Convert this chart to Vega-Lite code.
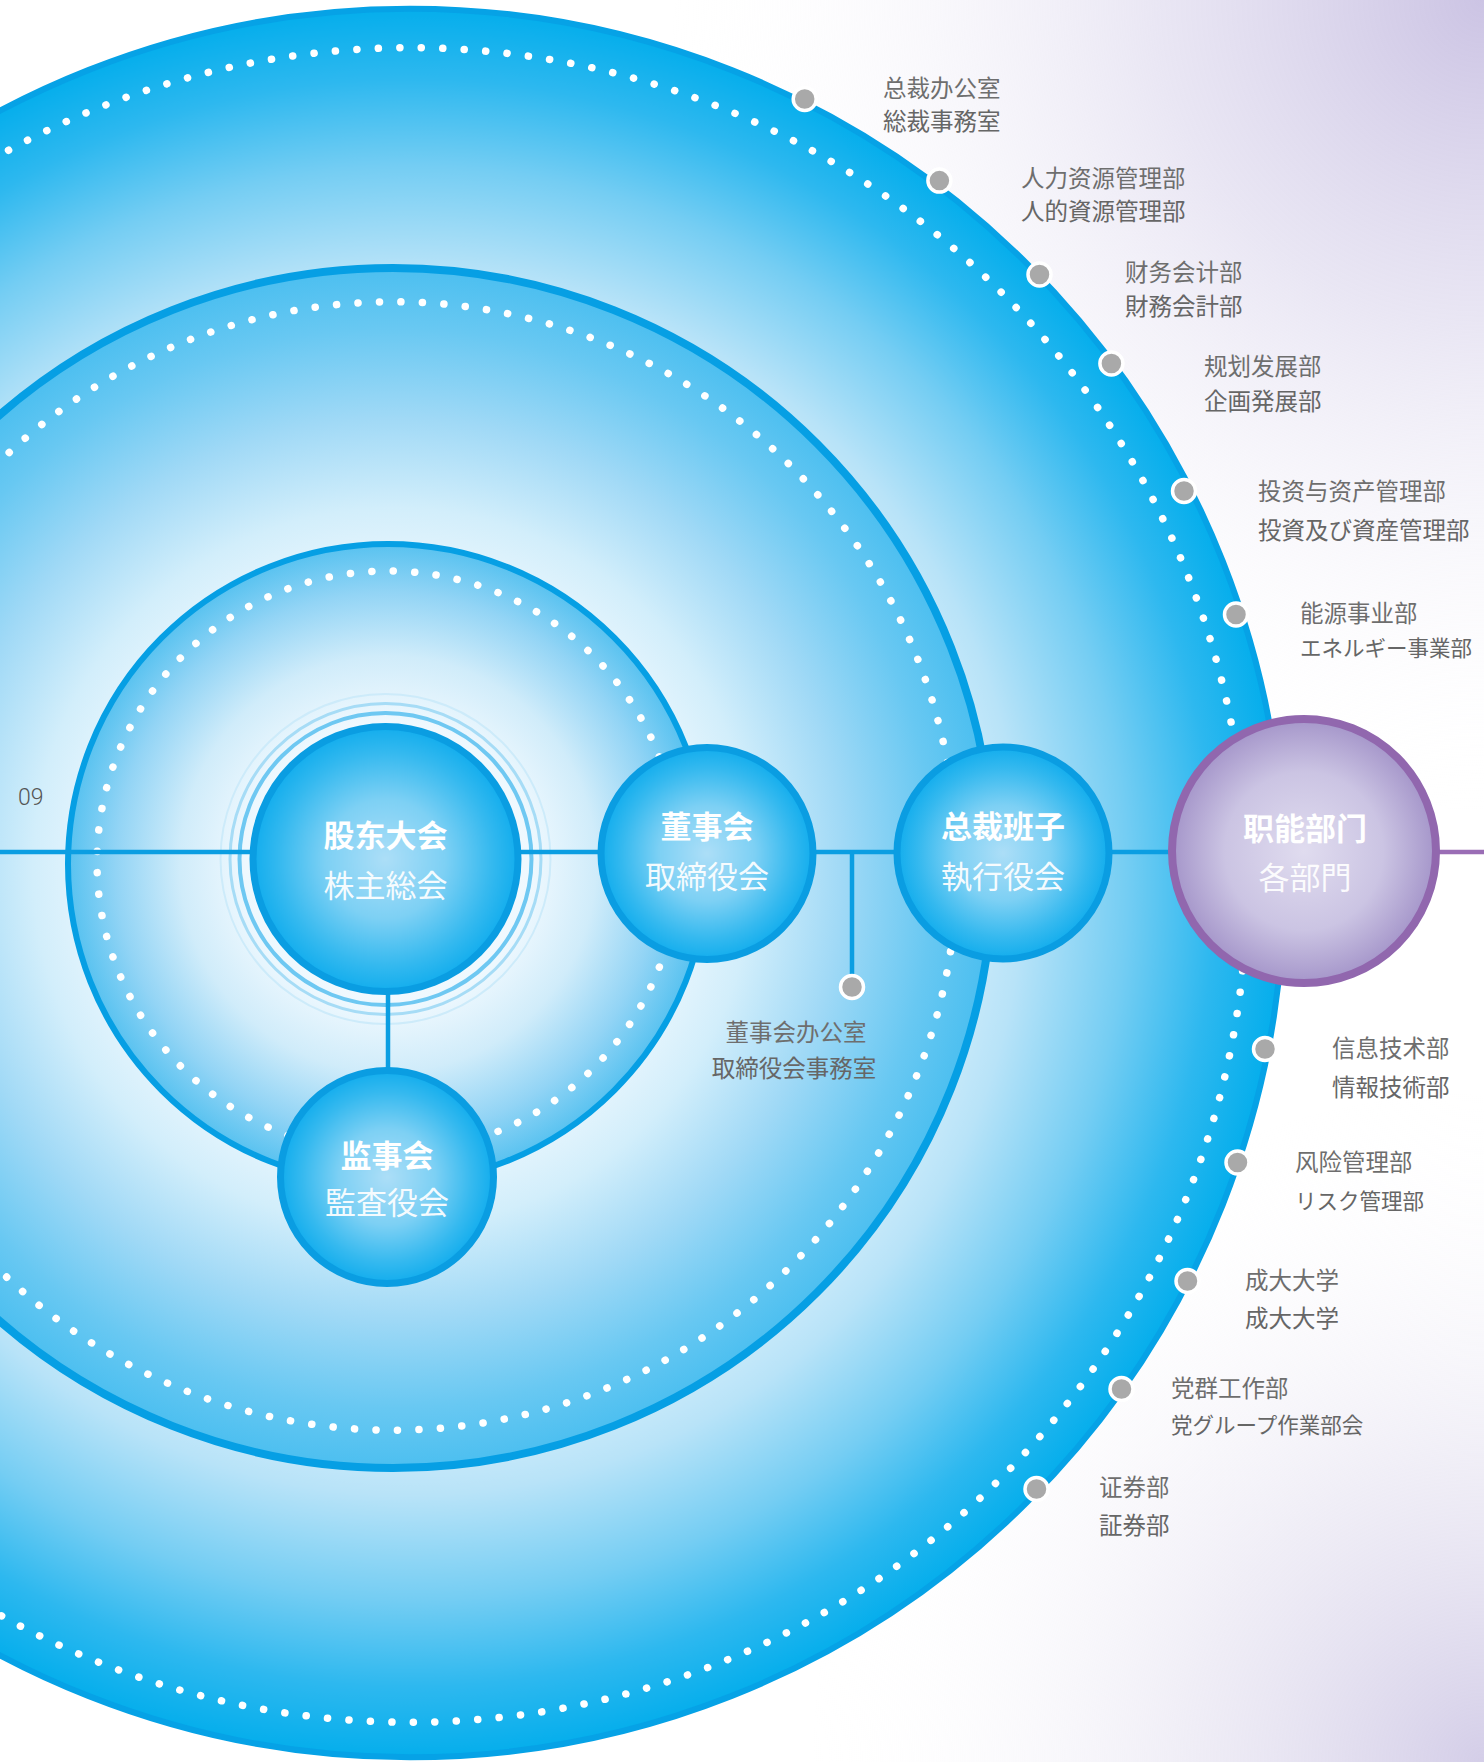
{
  "$schema": "https://vega.github.io/schema/vega-lite/v6.json",
  "width": 1484,
  "height": 1762,
  "padding": 0,
  "autosize": {"type": "none"},
  "background": "#ffffff",
  "config": {"view": {"stroke": null}},
  "encoding": {
    "x": {"field": "x", "type": "quantitative", "scale": {"domain": [0, 1484], "nice": false, "zero": false}, "axis": null},
    "y": {"field": "y", "type": "quantitative", "scale": {"domain": [0, 1762], "reverse": true, "nice": false, "zero": false}, "axis": null}
  },
  "layer": [
    {
      "data": {"values": [{"x": 0, "x2": 1484, "y": 0, "y2": 1762}]},
      "mark": {"type": "rect", "fill": "#ffffff"},
      "encoding": {"x2": {"field": "x2"}, "y2": {"field": "y2"}}
    },
    {
      "data": {"values": [{"x": 0, "x2": 1484, "y": 0, "y2": 1762}]},
      "mark": {"type": "rect", "fill": {"gradient": "radial", "x1": 0.92, "y1": 0, "r1": 0, "x2": 0.92, "y2": 0, "r2": 0.46,
        "stops": [{"offset": 0, "color": "rgba(204,196,228,1)"}, {"offset": 0.4, "color": "rgba(226,222,240,0.75)"}, {"offset": 1, "color": "rgba(255,255,255,0)"}]}},
      "encoding": {"x2": {"field": "x2"}, "y2": {"field": "y2"}}
    },
    {
      "data": {"values": [{"x": 0, "x2": 1484, "y": 0, "y2": 1762}]},
      "mark": {"type": "rect", "fill": {"gradient": "radial", "x1": 0.92, "y1": 1, "r1": 0, "x2": 0.92, "y2": 1, "r2": 0.38,
        "stops": [{"offset": 0, "color": "rgba(212,206,232,1)"}, {"offset": 0.45, "color": "rgba(232,229,242,0.65)"}, {"offset": 1, "color": "rgba(255,255,255,0)"}]}},
      "encoding": {"x2": {"field": "x2"}, "y2": {"field": "y2"}}
    },
    {
      "data": {"values": [{"x": 410, "y": 883, "r": 874}]},
      "mark": {"type": "circle", "opacity": 1, "clip": true, "stroke": "#06a2e6", "strokeWidth": 6,
        "fill": {"gradient": "radial", "x1": 0.5, "y1": 0.5, "r1": 0, "x2": 0.5, "y2": 0.5, "r2": 0.5,
          "stops": [{"offset": 0, "color": "#ffffff"}, {"offset": 0.6, "color": "#d8f0fc"}, {"offset": 0.7, "color": "#b8e3f8"}, {"offset": 0.82, "color": "#74cdf3"}, {"offset": 0.92, "color": "#2db8ef"}, {"offset": 1, "color": "#05aeec"}]}},
      "encoding": {"size": {"field": "r", "type": "quantitative", "scale": {"type": "pow", "exponent": 2, "domain": [0, 1000], "range": [0, 4000000]}, "legend": null}}
    },
    {
      "data": {"values": [{"x": 410, "y": 885, "r": 837}]},
      "mark": {"type": "circle", "filled": false, "opacity": 1, "clip": true, "stroke": "#ffffff", "strokeWidth": 7.5, "strokeDash": [0.1, 21.4], "strokeCap": "round"},
      "encoding": {"size": {"field": "r", "type": "quantitative", "scale": {"type": "pow", "exponent": 2, "domain": [0, 1000], "range": [0, 4000000]}, "legend": null}}
    },
    {
      "data": {"values": [{"x": 393, "y": 868, "r": 600}]},
      "mark": {"type": "circle", "opacity": 1, "clip": true, "stroke": "#069fe4", "strokeWidth": 8,
        "fill": {"gradient": "radial", "x1": 0.5, "y1": 0.5, "r1": 0, "x2": 0.5, "y2": 0.5, "r2": 0.5,
          "stops": [{"offset": 0, "color": "#ffffff"}, {"offset": 0.5, "color": "#e6f5fd"}, {"offset": 0.6, "color": "#d2eefb"}, {"offset": 0.75, "color": "#a0d9f6"}, {"offset": 0.9, "color": "#68c8f2"}, {"offset": 1, "color": "#4cbff0"}]}},
      "encoding": {"size": {"field": "r", "type": "quantitative", "scale": {"type": "pow", "exponent": 2, "domain": [0, 1000], "range": [0, 4000000]}, "legend": null}}
    },
    {
      "data": {"values": [{"x": 393, "y": 866, "r": 564}]},
      "mark": {"type": "circle", "filled": false, "opacity": 1, "clip": true, "stroke": "#ffffff", "strokeWidth": 7.5, "strokeDash": [0.1, 21.4], "strokeCap": "round"},
      "encoding": {"size": {"field": "r", "type": "quantitative", "scale": {"type": "pow", "exponent": 2, "domain": [0, 1000], "range": [0, 4000000]}, "legend": null}}
    },
    {
      "data": {"values": [{"x": 388, "y": 864, "r": 320}]},
      "mark": {"type": "circle", "opacity": 1, "clip": true, "stroke": "#069fe4", "strokeWidth": 6,
        "fill": {"gradient": "radial", "x1": 0.5, "y1": 0.5, "r1": 0, "x2": 0.5, "y2": 0.5, "r2": 0.5,
          "stops": [{"offset": 0, "color": "#ffffff"}, {"offset": 0.45, "color": "#eef8fe"}, {"offset": 0.65, "color": "#d0ecfa"}, {"offset": 0.85, "color": "#92d4f5"}, {"offset": 1, "color": "#58c2f0"}]}},
      "encoding": {"size": {"field": "r", "type": "quantitative", "scale": {"type": "pow", "exponent": 2, "domain": [0, 1000], "range": [0, 4000000]}, "legend": null}}
    },
    {
      "data": {"values": [{"x": 388, "y": 862, "r": 291}]},
      "mark": {"type": "circle", "filled": false, "opacity": 1, "clip": true, "stroke": "#ffffff", "strokeWidth": 7.5, "strokeDash": [0.1, 21.4], "strokeCap": "round"},
      "encoding": {"size": {"field": "r", "type": "quantitative", "scale": {"type": "pow", "exponent": 2, "domain": [0, 1000], "range": [0, 4000000]}, "legend": null}}
    },
    {
      "data": {"values": [{"x": 385.5, "y": 859, "r": 146, "ring": 1}, {"x": 385.5, "y": 859, "r": 155.5, "ring": 2}, {"x": 385.5, "y": 859, "r": 165, "ring": 3}]},
      "mark": {"type": "circle", "filled": false, "opacity": 1, "clip": true},
      "encoding": {
        "size": {"field": "r", "type": "quantitative", "scale": {"type": "pow", "exponent": 2, "domain": [0, 1000], "range": [0, 4000000]}, "legend": null},
        "stroke": {"field": "ring", "type": "nominal", "scale": {"domain": [1, 2, 3], "range": ["#6ec8f2", "#a6dcf6", "#cdebfa"]}, "legend": null},
        "strokeWidth": {"field": "ring", "type": "quantitative", "scale": {"domain": [1, 3], "range": [4, 2]}, "legend": null}
      }
    },
    {
      "data": {"values": [
        {"x": 0, "y": 852, "x2": 1220, "y2": 852, "kind": "blue"},
        {"x": 1300, "y": 852, "x2": 1484, "y2": 852, "kind": "purple"},
        {"x": 388, "y": 990, "x2": 388, "y2": 1072, "kind": "blue"},
        {"x": 852, "y": 852, "x2": 852, "y2": 985, "kind": "blue"}
      ]},
      "mark": {"type": "rule", "strokeWidth": 4.5, "clip": true},
      "encoding": {
        "x2": {"field": "x2"},
        "y2": {"field": "y2"},
        "color": {"field": "kind", "type": "nominal", "scale": {"domain": ["blue", "purple"], "range": ["#0b9ee2", "#9a6db5"]}, "legend": null}
      }
    },
    {
      "data": {"values": [
        {"x": 385.5, "y": 859, "r": 132.5},
        {"x": 707, "y": 853.5, "r": 106},
        {"x": 1003, "y": 853, "r": 106},
        {"x": 387, "y": 1177, "r": 106.5}
      ]},
      "mark": {"type": "circle", "opacity": 1, "stroke": "#0a9de2", "strokeWidth": 7,
        "fill": {"gradient": "radial", "x1": 0.5, "y1": 0.5, "r1": 0, "x2": 0.5, "y2": 0.5, "r2": 0.5,
          "stops": [{"offset": 0, "color": "#acdef7"}, {"offset": 0.45, "color": "#7dd0f4"}, {"offset": 0.8, "color": "#35b9ef"}, {"offset": 1, "color": "#12aded"}]}},
      "encoding": {"size": {"field": "r", "type": "quantitative", "scale": {"type": "pow", "exponent": 2, "domain": [0, 1000], "range": [0, 4000000]}, "legend": null}}
    },
    {
      "data": {"values": [{"x": 1304, "y": 851, "r": 132}]},
      "mark": {"type": "circle", "opacity": 1, "stroke": "#9167ae", "strokeWidth": 8,
        "fill": {"gradient": "radial", "x1": 0.5, "y1": 0.5, "r1": 0, "x2": 0.5, "y2": 0.5, "r2": 0.5,
          "stops": [{"offset": 0, "color": "#e0dcef"}, {"offset": 0.6, "color": "#cbc4e3"}, {"offset": 1, "color": "#a596ca"}]}},
      "encoding": {"size": {"field": "r", "type": "quantitative", "scale": {"type": "pow", "exponent": 2, "domain": [0, 1000], "range": [0, 4000000]}, "legend": null}}
    },
    {
      "data": {"values": [
        {"x": 804.7, "y": 99, "r": 11.5},
        {"x": 939.4, "y": 180.6, "r": 11.5},
        {"x": 1039.5, "y": 274.5, "r": 11.5},
        {"x": 1111.4, "y": 363.5, "r": 11.5},
        {"x": 1184, "y": 491, "r": 11.5},
        {"x": 1236, "y": 614.5, "r": 11.5},
        {"x": 1265, "y": 1049, "r": 11.5},
        {"x": 1237.5, "y": 1162.5, "r": 11.5},
        {"x": 1187.5, "y": 1281, "r": 11.5},
        {"x": 1121.5, "y": 1389, "r": 11.5},
        {"x": 1036.5, "y": 1489, "r": 11.5},
        {"x": 852, "y": 987, "r": 11.5}
      ]},
      "mark": {"type": "circle", "opacity": 1, "fill": "#a9a9a9", "stroke": "#ffffff", "strokeWidth": 3.5},
      "encoding": {"size": {"field": "r", "type": "quantitative", "scale": {"type": "pow", "exponent": 2, "domain": [0, 1000], "range": [0, 4000000]}, "legend": null}}
    },
    {
      "data": {"values": [
        {"label": "股东大会", "x": 385.5, "y": 838},
        {"label": "董事会", "x": 707, "y": 829},
        {"label": "总裁班子", "x": 1003, "y": 829},
        {"label": "监事会", "x": 387, "y": 1158},
        {"label": "职能部门", "x": 1305, "y": 831}
      ]},
      "mark": {"type": "text", "font": "Noto Sans CJK SC", "fontWeight": "bold", "fontSize": 31, "color": "#ffffff", "align": "center", "baseline": "middle"},
      "encoding": {"text": {"field": "label"}}
    },
    {
      "data": {"values": [
        {"label": "株主総会", "x": 385.5, "y": 888},
        {"label": "取締役会", "x": 707, "y": 878.5},
        {"label": "執行役会", "x": 1003, "y": 878.5},
        {"label": "監査役会", "x": 387, "y": 1205},
        {"label": "各部門", "x": 1305, "y": 880}
      ]},
      "mark": {"type": "text", "font": "Noto Sans CJK JP", "fontSize": 31, "color": "#ffffff", "opacity": 0.92, "align": "center", "baseline": "middle"},
      "encoding": {"text": {"field": "label"}}
    },
    {
      "data": {"values": [
        {"label": "总裁办公室", "x": 883, "y": 89.6},
        {"label": "人力资源管理部", "x": 1021, "y": 180},
        {"label": "财务会计部", "x": 1125, "y": 274},
        {"label": "规划发展部", "x": 1204, "y": 368},
        {"label": "投资与资产管理部", "x": 1258, "y": 493},
        {"label": "能源事业部", "x": 1300, "y": 615},
        {"label": "信息技术部", "x": 1332, "y": 1050},
        {"label": "风险管理部", "x": 1295, "y": 1164},
        {"label": "成大大学", "x": 1245, "y": 1282},
        {"label": "党群工作部", "x": 1171, "y": 1390},
        {"label": "证券部", "x": 1099, "y": 1489}
      ]},
      "mark": {"type": "text", "font": "Noto Sans CJK SC", "fontSize": 23.5, "color": "#6e6e6e", "align": "left", "baseline": "middle"},
      "encoding": {"text": {"field": "label"}}
    },
    {
      "data": {"values": [
        {"label": "総裁事務室", "x": 883, "y": 122.7},
        {"label": "人的資源管理部", "x": 1021, "y": 213},
        {"label": "財務会計部", "x": 1125, "y": 308},
        {"label": "企画発展部", "x": 1204, "y": 403},
        {"label": "投資及び資産管理部", "x": 1258, "y": 532},
        {"label": "情報技術部", "x": 1332, "y": 1089},
        {"label": "成大大学", "x": 1245, "y": 1320},
        {"label": "証券部", "x": 1099, "y": 1527}
      ]},
      "mark": {"type": "text", "font": "Noto Sans CJK JP", "fontSize": 23.5, "color": "#666666", "align": "left", "baseline": "middle"},
      "encoding": {"text": {"field": "label"}}
    },
    {
      "data": {"values": [
        {"label": "エネルギー事業部", "x": 1300, "y": 650},
        {"label": "リスク管理部", "x": 1295, "y": 1203},
        {"label": "党グループ作業部会", "x": 1171, "y": 1427}
      ]},
      "mark": {"type": "text", "font": "Noto Sans CJK JP", "fontSize": 21.5, "color": "#666666", "align": "left", "baseline": "middle"},
      "encoding": {"text": {"field": "label"}}
    },
    {
      "data": {"values": [{"label": "董事会办公室", "x": 796, "y": 1034}]},
      "mark": {"type": "text", "font": "Noto Sans CJK SC", "fontSize": 23.5, "color": "#6e6e6e", "align": "center", "baseline": "middle"},
      "encoding": {"text": {"field": "label"}}
    },
    {
      "data": {"values": [{"label": "取締役会事務室", "x": 794, "y": 1070}]},
      "mark": {"type": "text", "font": "Noto Sans CJK JP", "fontSize": 23.5, "color": "#666666", "align": "center", "baseline": "middle"},
      "encoding": {"text": {"field": "label"}}
    },
    {
      "data": {"values": [{"label": "09", "x": 18, "y": 798}]},
      "mark": {"type": "text", "font": "Roboto", "fontWeight": 300, "fontSize": 23, "color": "#555555", "align": "left", "baseline": "middle"},
      "encoding": {"text": {"field": "label"}}
    }
  ]
}
